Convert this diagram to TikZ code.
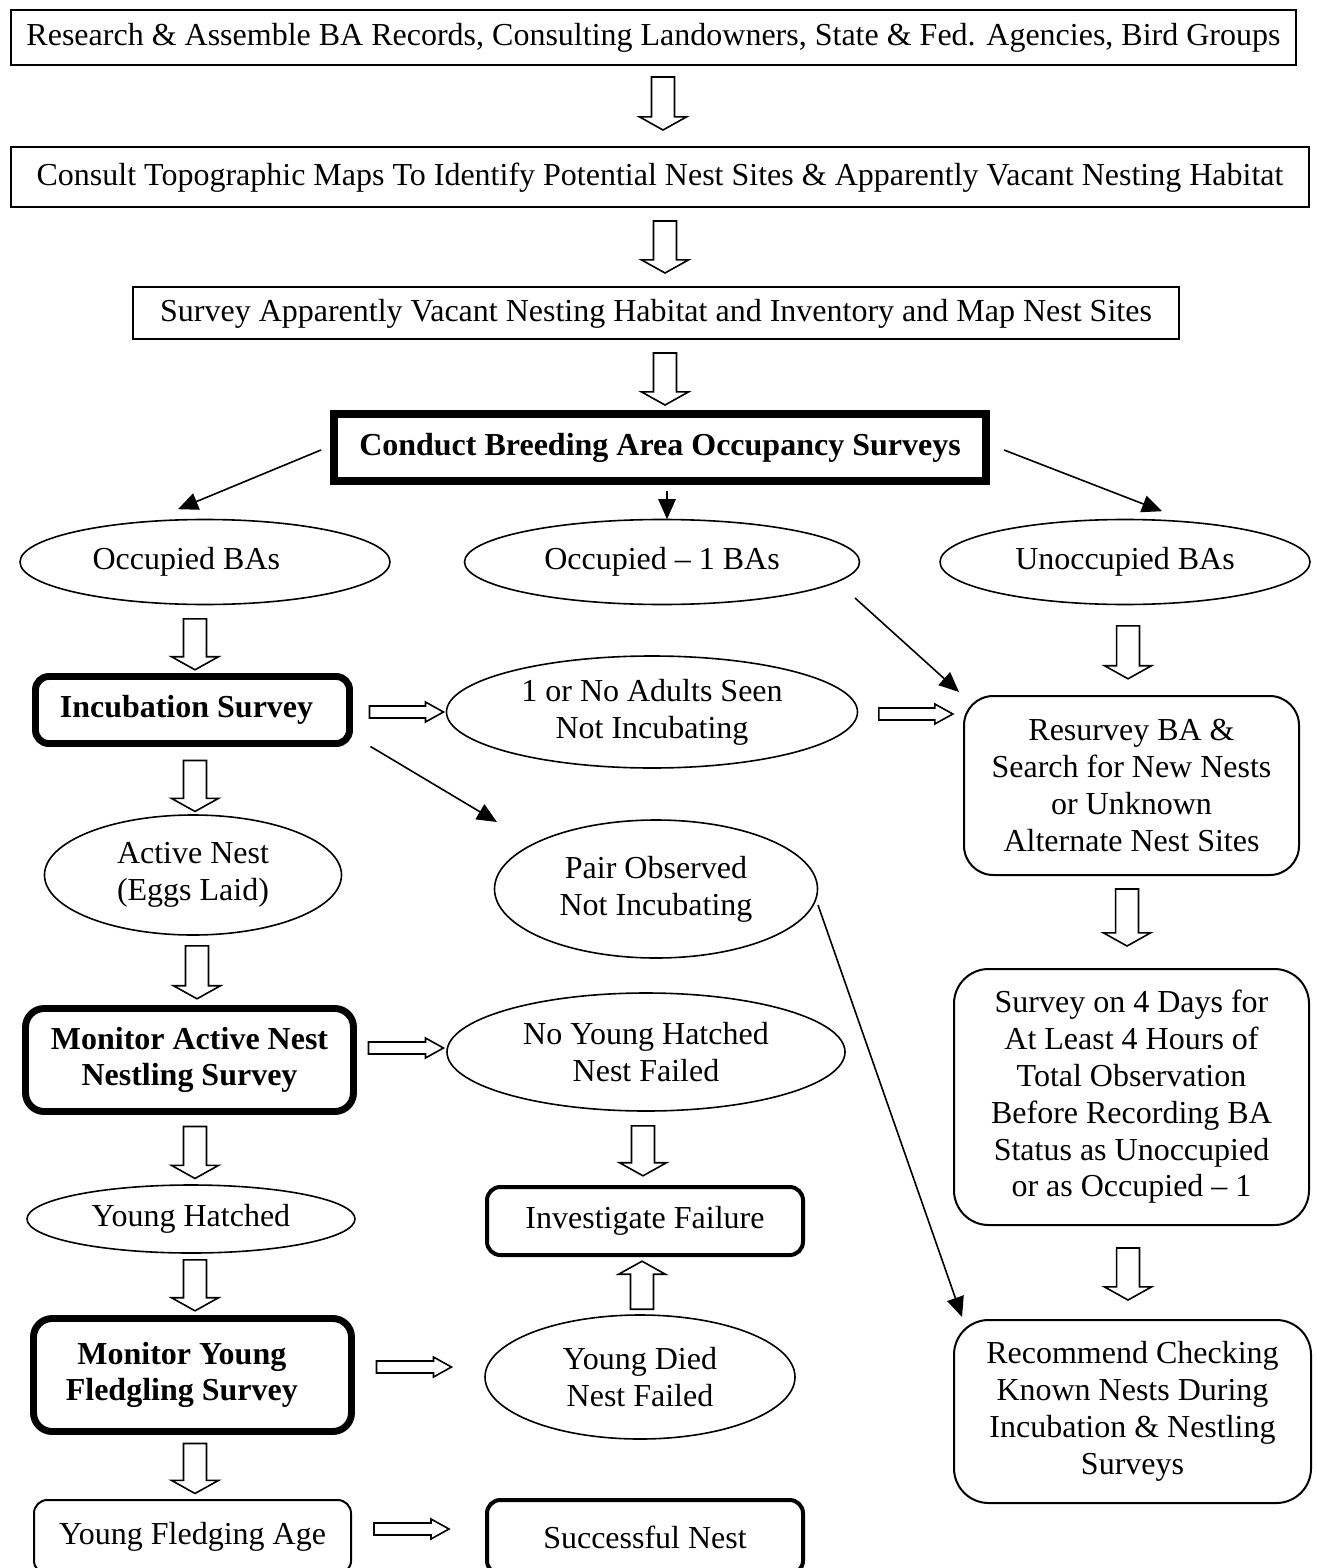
\documentclass[tikz,border=0pt]{standalone}
\usepackage{fontspec}
\setmainfont{Liberation Serif}
\usetikzlibrary{shapes.geometric,arrows.meta,calc}
\newcommand\pxu{0.375pt}
% hollow block arrow from #1 to #2 (tip), shaft half width #3, head half width #4, head length #5
\newcommand\hol[5]{%
  \draw[hollow] let \p1=(#1), \p2=(#2),
    \n1={atan2(\y2-\y1,\x2-\x1)}, \n2={veclen(\x2-\x1,\y2-\y1)} in
    ([hv]0pt,#3) -- ([hv]{\n2-#5},#3) -- ([hv]{\n2-#5},#4) --
    ([hv]\n2,0pt) -- ([hv]{\n2-#5},-#4) -- ([hv]{\n2-#5},-#3) --
    ([hv]0pt,-#3) -- cycle;}
\newcommand\varr[2]{\hol{#1}{#2}{4.3pt}{8.8pt}{4.9pt}}
\newcommand\harr[2]{\hol{#1}{#2}{2.25pt}{3.75pt}{6.75pt}}
\begin{document}
\begin{tikzpicture}[x=0.375pt,y=-0.375pt,
  font=\fontsize{12}{13.8}\selectfont,
  bf/.style={font=\fontsize{12}{13.8}\selectfont\bfseries},
  sz/.style 2 args={minimum width={#1*\pxu},minimum height={#2*\pxu}},
  box/.style={draw,inner sep=0pt,align=center,line width=0.75pt},
  rbox/.style={box,rounded corners=#1},
  ell/.style={draw,ellipse,inner sep=0pt,align=center,line width=0.6pt},
  hv/.style={shift={(\p1)},rotate=\n1},
  hollow/.style={draw,line width=0.6pt,fill=white,line join=miter},
  conn/.style={line width=0.6pt,-{Triangle[length=7.5pt,width=6.5pt]}}]
\useasboundingbox (0,0) rectangle (1316,1568);
\clip (0,0) rectangle (1316,1568);

% top boxes
\node[box,sz={1285}{55}] (b1) at (653.5,37.5) {Research \& Assemble BA Records, Consulting Landowners, State \& Fed. Agencies, Bird Groups};
\node[box,sz={1298}{60}] (b2) at (660,177.5) {Consult Topographic Maps To Identify Potential Nest Sites \& Apparently Vacant Nesting Habitat};
\node[box,sz={1046}{52}] (b3) at (656,313.5) {Survey Apparently Vacant Nesting Habitat and Inventory and Map Nest Sites};
\node[box,bf,line width=3pt,sz={652}{67}] (cond) at (660,447.5) {Conduct Breeding Area Occupancy Surveys};

% first row of ellipses
\node[ell,sz={370}{85}] (e1) at (205,562) {Occupied BAs\kern14pt};
\node[ell,sz={395}{85}] (e2) at (662,562) {Occupied – 1 BAs};
\node[ell,sz={370}{85}] (e3) at (1125,562) {Unoccupied BAs};

% left column
\node[rbox=5pt,bf,line width=2.6pt,sz={314}{67}] (inc) at (192.5,710) {Incubation Survey\kern4.5pt};
\node[ell,sz={297}{120}] (e5) at (193,875) {Active Nest\\(Eggs Laid)};
\node[rbox=7pt,bf,line width=2.6pt,sz={328}{103}] (mon) at (189.5,1060) {Monitor Active Nest\\Nestling Survey};
\node[ell,sz={328}{68}] (e8) at (191,1219) {Young Hatched};
\node[rbox=7pt,bf,line width=2.6pt,sz={318}{113}] (mony) at (192.5,1375) {Monitor Young\kern8pt\\Fledgling Survey\kern8pt};
\node[rbox=5pt,sz={317}{74}] (fa) at (192.5,1537) {Young Fledging Age};

% middle column
\node[ell,sz={411}{112}] (e4) at (652,712) {1 or No Adults Seen\\Not Incubating};
\node[ell,sz={323}{138}] (e6) at (656,889) {Pair Observed\\Not Incubating};
\node[ell,sz={398}{118}] (e7) at (646,1052) {No Young Hatched\\Nest Failed};
\node[rbox=5pt,line width=1.5pt,sz={316}{68}] (inv) at (645,1221) {Investigate Failure};
\node[ell,sz={310}{124}] (e9) at (640,1377) {Young Died\\Nest Failed};
\node[rbox=5pt,line width=1.5pt,sz={316}{74}] (suc) at (645,1537) {Successful Nest};

% right column
\node[rbox=11pt,sz={335}{179}] (res) at (1131.5,785.5) {Resurvey BA \&\\Search for New Nests\\or Unknown\\Alternate Nest Sites};
\node[rbox=13pt,sz={355}{256}] (s4) at (1131.5,1097) {Survey on 4 Days for\\At Least 4 Hours of\\Total Observation\\Before Recording BA\\Status as Unoccupied\\or as Occupied – 1};
\node[rbox=13pt,sz={357}{183}] (rec) at (1132.5,1411.5) {Recommend Checking\\Known Nests During\\Incubation \& Nestling\\Surveys};

% hollow vertical arrows
\varr{$(b1.south)+(9.5,11)$}{$(b1.south)+(9.5,64)$}
\varr{$(b2.south)+(5,12.5)$}{$(b2.south)+(5,64.5)$}
\varr{$(b3.south)+(9,12.5)$}{$(b3.south)+(9,64.5)$}
\varr{$(e1.south)+(-10,13.5)$}{$(e1.south)+(-10,64.5)$}
\varr{$(inc.south)+(2.5,13.5)$}{$(inc.south)+(2.5,64.5)$}
\varr{$(e5.south)+(4,10)$}{$(e5.south)+(4,63)$}
\varr{$(mon.south)+(5.5,11.5)$}{$(mon.south)+(5.5,63.5)$}
\varr{$(e8.south)+(4,6)$}{$(e8.south)+(4,57)$}
\varr{$(mony.south)+(2.5,8.5)$}{$(mony.south)+(2.5,58.5)$}
\varr{$(e7.south)+(-3,14)$}{$(e7.south)+(-3,64)$}
\varr{$(e9.north)+(2,-5)$}{$(e9.north)+(2,-53)$}
\varr{$(e3.south)+(3,20.5)$}{$(e3.south)+(3,73.5)$}
\varr{$(res.south)+(-4.5,13)$}{$(res.south)+(-4.5,70)$}
\varr{$(s4.south)+(-3.5,22)$}{$(s4.south)+(-3.5,74)$}

% hollow horizontal arrows
\harr{$(inc.east)+(16.5,2)$}{$(inc.east)+(90.5,2)$}
\harr{$(e4.east)+(20.5,2)$}{$(e4.east)+(94.5,2)$}
\harr{$(mon.east)+(11.5,-12)$}{$(mon.east)+(86.5,-12)$}
\harr{$(mony.east)+(21.5,-8)$}{$(mony.east)+(96.5,-8)$}
\harr{$(fa.east)+(22,-8)$}{$(fa.east)+(97,-8)$}

% line connectors
\draw[conn] ($(cond.west)+(-9,2.5)$) -- ($(e1.north)+(-27,-9.5)$);
\draw[conn] ($(cond.south)+(7,6)$) -- ($(e2.north)+(5,0.5)$);
\draw[conn] ($(cond.east)+(14,2.5)$) -- ($(e3.north)+(37,-7.5)$);
\draw[conn] ($(e2.center)+(193,36)$) -- ($(res.north west)+(-4,-3)$);
\draw[conn] ($(inc.south east)+(17.5,-0.5)$) -- ($(e6.center)+(-159,-67)$);
\draw[conn] ($(e6.center)+(162,16)$) -- ($(rec.north west)+(9,-2)$);
\end{tikzpicture}
\end{document}
